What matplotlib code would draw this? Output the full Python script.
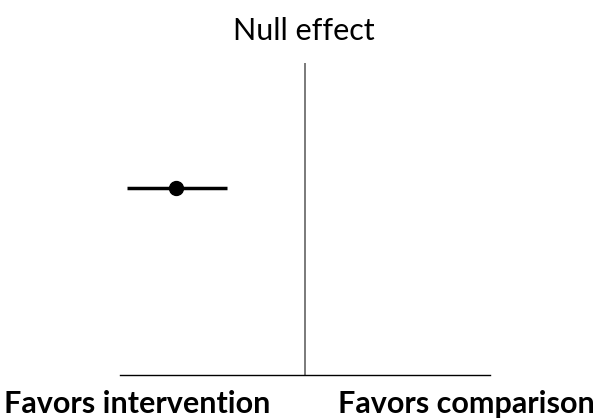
import matplotlib
matplotlib.use("Agg")
import matplotlib.pyplot as plt

# Data
estimate = [-0.70]
ci_lower = [-0.96]
ci_upper = [-0.42]
row_y = [0.60]
null_value = 0.0
top_label = "Null effect"
left_label = "Favors intervention"
right_label = "Favors comparison"

plt.rcParams['font.family'] = ['Lato', 'DejaVu Sans']

fig = plt.figure(figsize=(6.01, 4.20), dpi=100)
ax = fig.add_axes([120/601, 45/420, 370/601, 312/420])
ax.set_xlim(-1, 1)
ax.set_ylim(0, 1)

ax.axvline(null_value, color="#707070", lw=1.3, zorder=1)
for e, lo, hi, y in zip(estimate, ci_lower, ci_upper, row_y):
    ax.plot([lo, hi], [y, y], color="black", lw=2.5, solid_capstyle="butt", zorder=2)
    ax.plot([e], [y], "o", color="black", ms=10, zorder=3)

for s in ["top", "left", "right"]:
    ax.spines[s].set_visible(False)
ax.spines["bottom"].set_linewidth(1.0)
ax.spines["bottom"].set_color("black")
ax.set_xticks([])
ax.set_yticks([])

fig.text(304/601, 1 - 31/420, top_label, ha="center", va="center", fontsize=22)
fig.text(137/601, 1 - 404/420, left_label, ha="center", va="center", fontsize=22, fontweight="bold")
fig.text(466/601, 1 - 404/420, right_label, ha="center", va="center", fontsize=22, fontweight="bold")

fig.savefig("out.png", dpi=100)
